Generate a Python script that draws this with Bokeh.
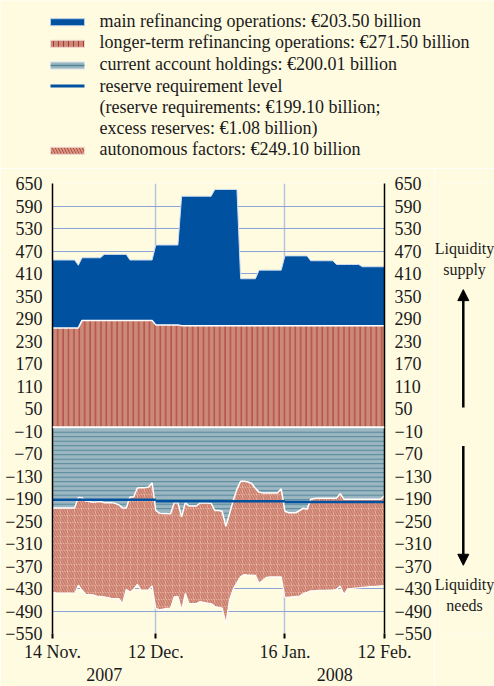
import numpy as np
import pandas as pd
from bokeh.plotting import figure
from bokeh.layouts import column, row
from bokeh.models import (LinearAxis, DatetimeAxis, FixedTicker, DatetimeTickFormatter,
                          Range1d, ColumnDataSource, Arrow, NormalHead, Span)
from bokeh.embed import file_html
from bokeh.resources import INLINE
from bokeh.core.properties import value

# ---------------- data (EUR billions, daily, 14 Nov 2007 - 12 Feb 2008) ----------------
start_date = "2007-11-14"
end_date = "2008-02-12"

main_refinancing = [
    181, 181, 181, 181, 181, 181, 181,
    167, 167, 167, 167, 167, 167, 167,
    176, 176, 176, 176, 176, 176, 176,
    161, 161, 161, 161, 161, 161, 161,
    213, 213, 213, 213, 213, 213, 213,
    345, 345, 345, 345, 345, 345, 345, 345, 345,
    363, 363, 363, 363, 363, 363, 363,
    125, 125, 125, 125, 125,
    148, 148, 148, 148, 148, 148, 148,
    186, 186, 186, 186, 186, 186, 186,
    173, 173, 173, 173, 173, 173, 173,
    163, 163, 163, 163, 163, 163, 163,
    157, 157, 157, 157, 157, 157, 157,
]
longer_term = [
    265, 265, 265, 265, 265, 265, 265, 265,
    285, 285, 285, 285, 285, 285, 285, 285, 285, 285,
    285, 285, 285, 285, 285, 285, 285, 285, 285, 285,
    273, 273, 273, 273, 273, 273, 273,
    271, 271, 271, 271, 271, 271, 271, 271, 271, 271, 271, 271, 271, 271,
    271, 271, 271, 271, 271, 271, 271, 271, 271, 271, 271, 271, 271, 271,
    271, 271, 271, 271, 271, 271, 271, 271, 271, 271, 271, 271, 271, 271,
    271, 271, 271, 271, 271, 271, 271, 271, 271, 271, 271, 271, 271, 271,
]
current_account = [
    215, 215, 215, 215, 215, 215, 215,
    187, 188, 197, 198, 200, 199, 198,
    201, 201, 201, 203, 207, 215, 215,
    186, 186, 162, 161, 161, 160, 148,
    222, 229, 230, 230, 231, 201, 201,
    239, 201, 210, 210, 210, 202, 202, 202, 203,
    222, 222, 224, 264, 230, 195, 165,
    144, 144, 146, 150, 163,
    173, 175, 175, 175, 175, 175, 164,
    224, 228, 228, 228, 222, 216, 219,
    192, 190, 189, 189, 189, 189, 189,
    189, 177, 192, 192, 192, 192, 192,
    192, 192, 192, 192, 192, 192, 182,
]
autonomous = [
    225, 227, 227, 227, 227, 227, 228,
    234, 246, 249, 248, 247, 251, 253,
    251, 253, 255, 254, 250, 255, 217,
    254, 246, 257, 273, 273, 274, 275,
    261, 258, 255, 253, 251, 251, 250,
    248, 242, 260, 260, 260, 263, 265, 267, 267,
    256, 258, 258, 259, 230, 236, 249,
    254, 249, 248, 244, 232,
    243, 233, 225, 224, 224, 224, 235,
    230, 225, 224, 223, 228, 227, 221,
    244, 246, 246, 246, 246, 245, 245,
    243, 246, 254, 239, 238, 237, 236,
    235, 234, 233, 233, 232, 231, 240,
]
period_start = ["2007-11-14", "2007-12-12", "2008-01-16"]
period_end = ["2007-12-12", "2008-01-16", "2008-02-12"]
reserve_requirement = [193, 197, 199.1]

y_ticks = [650, 590, 530, 470, 410, 350, 290, 230, 170, 110, 50, -10, -70, -130,
           -190, -250, -310, -370, -430, -490, -550]
x_tick_dates = ["2007-11-14", "2007-12-12", "2008-01-16", "2008-02-12"]
grid_dates = ["2007-12-12", "2008-01-16"]
year_labels = ["2007", "2008"]

legend_labels = [
    "main refinancing operations: \u20ac203.50 billion",
    "longer-term refinancing operations: \u20ac271.50 billion",
    "current account holdings: \u20ac200.01 billion",
    "reserve requirement level",
    "(reserve requirements: \u20ac199.10 billion;",
    "excess reserves: \u20ac1.08 billion)",
    "autonomous factors: \u20ac249.10 billion",
]

# ---------------- styling ----------------
BG = "#FFFBE1"
MRO_BLUE = "#0051A0"
LTRO_FILL = "#CC8878"
LTRO_STRIPE = "#A83A2C"
CA_FILL = "#9CB6C2"
CA_STRIPE = "#4F8798"
AF_FILL = "#D89886"
AF_DIAG = "#B04E40"
AF_GRID = "#F2C8B4"
GRID = "#8FA3D8"
FONT = "Liberation Serif"
TXT = "#1A1A1A"

def ms(d):
    return pd.Timestamp(d).value / 1e6

dates = pd.date_range(start_date, end_date, freq="D")
n = len(dates)
assert all(len(a) == n for a in (main_refinancing, longer_term, current_account, autonomous))

ltro = np.array(longer_term, dtype=float)
mro = np.array(main_refinancing, dtype=float)
ca = np.array(current_account, dtype=float)
af = np.array(autonomous, dtype=float)

src = ColumnDataSource(dict(
    date=dates,
    zero=np.zeros(n),
    ltro_top=ltro,
    mro_top=ltro + mro,
    ca_bottom=-ca,
    af_bottom=-(ca + af),
))

W, H = 494, 686

# ---------------- legend figure ----------------
LH = 168
leg = figure(width=W, height=LH, output_backend="svg", toolbar_location=None,
             x_range=Range1d(0, W), y_range=Range1d(LH, 0),
             background_fill_color=BG, border_fill_color=BG, outline_line_color=None,
             min_border=0)
leg.axis.visible = False
leg.grid.visible = False
row_y = [20.7, 41.7, 63.3, 85.0, 106.7, 127.7, 148.3]
sw_y = [21.7, 43.3, 65.0, 85.5, 150.3]
sx0, sx1 = 50, 84
hh = 3.5
leg.quad(left=sx0, right=sx1, top=sw_y[0] - hh, bottom=sw_y[0] + hh,
         fill_color=MRO_BLUE, line_color="#B8CCE8", line_width=1)
leg.quad(left=sx0, right=sx1, top=sw_y[1] - hh, bottom=sw_y[1] + hh,
         fill_color=LTRO_FILL, line_color="#F0D8D0", line_width=1,
         hatch_pattern="|", hatch_color=LTRO_STRIPE, hatch_scale=5, hatch_weight=1)
leg.quad(left=sx0, right=sx1, top=sw_y[2] - hh, bottom=sw_y[2] + hh,
         fill_color=CA_FILL, line_color="#D8E4EC", line_width=1)
leg.segment(x0=sx0, x1=sx1, y0=sw_y[2], y1=sw_y[2], line_color=CA_STRIPE, line_width=1.5)
leg.segment(x0=sx0, x1=sx1, y0=sw_y[3], y1=sw_y[3], line_color=MRO_BLUE, line_width=3)
leg.quad(left=sx0, right=sx1, top=sw_y[4] - hh, bottom=sw_y[4] + hh,
         fill_color=AF_FILL, line_color="#F0D8D0", line_width=1,
         hatch_pattern="\\", hatch_color=AF_DIAG, hatch_scale=6, hatch_weight=1)
leg.text(x=[99] * len(legend_labels), y=row_y, text=legend_labels,
         text_font=value(FONT), text_font_size="18px", text_color=TXT,
         text_baseline="middle", text_align="left")

# ---------------- main chart ----------------
MW = 434
MH = H - LH
BT, BB = 15, 53
p = figure(width=MW, height=MH, x_axis_type="datetime", output_backend="svg",
           toolbar_location=None,
           x_range=Range1d(pd.Timestamp(start_date), pd.Timestamp(end_date)),
           y_range=Range1d(-550, 650),
           background_fill_color=BG, border_fill_color=BG, outline_line_color=None,
           min_border_left=52, min_border_right=46, min_border_top=BT, min_border_bottom=BB)

p.ygrid.ticker = FixedTicker(ticks=y_ticks)
p.ygrid.grid_line_color = GRID
p.ygrid.grid_line_width = 1
p.xgrid.ticker = FixedTicker(ticks=[ms(d) for d in grid_dates])
p.xgrid.grid_line_color = "#B4C2DC"
p.xgrid.grid_line_width = 1.5

# liquidity supply
p.varea(x="date", y1="zero", y2="ltro_top", source=src, fill_color=LTRO_FILL,
        hatch_pattern="|", hatch_color=LTRO_STRIPE, hatch_scale=5.4, hatch_weight=1)
p.varea(x="date", y1="ltro_top", y2="mro_top", source=src, fill_color=MRO_BLUE)
# liquidity needs
p.varea(x="date", y1="zero", y2="ca_bottom", source=src, fill_color=CA_FILL,
        hatch_pattern="-", hatch_color=CA_STRIPE, hatch_scale=4.5, hatch_weight=1)
p.varea(x="date", y1="ca_bottom", y2="af_bottom", source=src, fill_color=AF_FILL,
        hatch_pattern="+", hatch_color=AF_GRID, hatch_scale=7, hatch_weight=0.8, hatch_alpha=0.7)
p.varea(x="date", y1="ca_bottom", y2="af_bottom", source=src, fill_alpha=0,
        hatch_pattern="\\", hatch_color=AF_DIAG, hatch_scale=5, hatch_weight=0.8, hatch_alpha=0.65)

# separating light lines
p.line(x="date", y="mro_top", source=src, line_color="#D0DCF0", line_width=1)
p.line(x="date", y="ltro_top", source=src, line_color="white", line_width=1.5)
p.line(x="date", y="ca_bottom", source=src, line_color="white", line_width=1.5)
p.line(x="date", y="af_bottom", source=src, line_color="white", line_width=1.2)
p.add_layout(Span(location=0, dimension="width", line_color="white", line_width=2))

# reserve requirement level
p.segment(x0=pd.to_datetime(period_start), x1=pd.to_datetime(period_end),
          y0=[-v for v in reserve_requirement], y1=[-v for v in reserve_requirement],
          line_color=MRO_BLUE, line_width=2.5)

# axes
def style_y(ax):
    ax.ticker = FixedTicker(ticks=y_ticks)
    ax.major_tick_out = 0
    ax.major_tick_in = 0
    ax.minor_tick_line_color = None
    ax.major_label_standoff = 10
    ax.major_label_text_font = FONT
    ax.major_label_text_font_size = "18px"
    ax.major_label_text_color = TXT
    ax.axis_line_color = "black"
    ax.axis_line_width = 1.5

style_y(p.yaxis[0])
right_ax = LinearAxis()
style_y(right_ax)
p.add_layout(right_ax, "right")

fmt_day = "%d %b."
xa = p.xaxis[0]
xa.ticker = FixedTicker(ticks=[ms(d) for d in x_tick_dates])
xa.formatter = DatetimeTickFormatter(days=fmt_day, months=fmt_day, years=fmt_day,
                                     hours=fmt_day, hourmin=fmt_day, minutes=fmt_day)
xa.axis_line_color = None
xa.major_tick_out = 5
xa.major_tick_in = 0
xa.major_tick_line_color = "black"
xa.major_tick_line_width = 2
xa.minor_tick_line_color = None
xa.major_label_standoff = 3
xa.major_label_text_font = FONT
xa.major_label_text_font_size = "18px"
xa.major_label_text_color = TXT

year_ticks = [(ms(x_tick_dates[0]) + ms(x_tick_dates[1])) / 2,
              (ms(x_tick_dates[2]) + ms(x_tick_dates[3])) / 2]
ya = DatetimeAxis(ticker=FixedTicker(ticks=year_ticks),
                  formatter=DatetimeTickFormatter(days="%Y", months="%Y", years="%Y",
                                                  hours="%Y", hourmin="%Y", minutes="%Y"))
ya.major_label_overrides = {year_ticks[0]: year_labels[0], year_ticks[1]: year_labels[1]}
ya.axis_line_color = None
ya.major_tick_line_color = None
ya.major_tick_out = 0
ya.major_tick_in = 0
ya.minor_tick_line_color = None
ya.major_label_standoff = 3
ya.major_label_text_font = FONT
ya.major_label_text_font_size = "18px"
ya.major_label_text_color = TXT
p.add_layout(ya, "below")

# ---------------- side panel: liquidity arrows ----------------
side = figure(width=W - MW, height=MH, output_backend="svg", toolbar_location=None,
              x_range=Range1d(0, 1), y_range=p.y_range,
              background_fill_color=BG, border_fill_color=BG, outline_line_color=None,
              min_border_left=0, min_border_right=0, min_border_top=BT, min_border_bottom=BB)
side.axis.visible = False
side.grid.visible = False
side.text(x=[0.5, 0.5, 0.5, 0.5], y=[478, 422, -419, -475],
          text=["Liquidity", "supply", "Liquidity", "needs"],
          text_font=value(FONT), text_font_size="16px", text_color=TXT,
          text_align="center", text_baseline="middle")
side.add_layout(Arrow(end=NormalHead(size=11, fill_color="black", line_color="black"),
                      x_start=0.48, y_start=53, x_end=0.48, y_end=367,
                      line_width=2.5, line_color="black"))
side.add_layout(Arrow(end=NormalHead(size=11, fill_color="black", line_color="black"),
                      x_start=0.48, y_start=-50, x_end=0.48, y_end=-368,
                      line_width=2.5, line_color="black"))

layout = column(leg, row(p, side, spacing=0), spacing=0)
open("out.html", "w").write(file_html(layout, INLINE))
